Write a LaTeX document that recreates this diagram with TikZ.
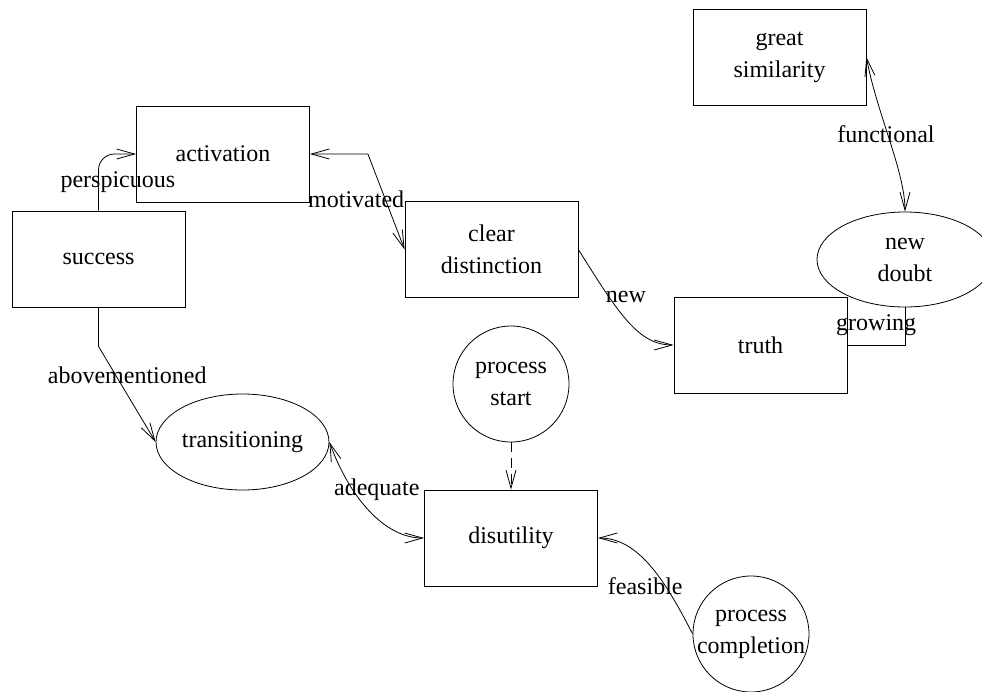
\documentclass[tikz,border=0pt]{standalone}
\usepackage{fontspec}
\setmainfont{Liberation Serif}
\usepackage{tikz}
\usetikzlibrary{arrows.meta, shapes.geometric, positioning}

\tikzset{
  >={Straight Barb[length=9pt, width=5pt]},
  box/.style={draw, minimum width=86.5pt, minimum height=48pt, align=center},
  oval/.style={draw, ellipse, inner sep=-2pt, minimum width=86.5pt, minimum height=48pt, align=center},
  disc/.style={draw, circle, inner sep=-4pt, minimum size=58pt, align=center},
  tag/.style={inner sep=0pt}
}

\begin{document}
\begin{tikzpicture}[x=0.5pt, y=-0.5pt, font=\fontsize{12}{16}\selectfont]
  \useasboundingbox (0,0) rectangle (982,692);

  \node (success) [box] at (98.5,259) {success};
  \node (activation) [box] at (223,154) {activation};
  \node (clear) [box] at (491.5,249.5) {clear\\distinction};
  \node (truth) [box] at (760.5,345) {truth};
  \node (great) [box] at (779.5,57) {great\\similarity};
  \node (doubt) [oval, minimum width=88pt, minimum height=47.5pt] at (905,259.5) {new\\doubt};
  \node (trans) [oval] at (242.5,442) {transitioning};
  \node (start) [disc] at (511,384) {process\\start};
  \node (disut) [box] at (511,538) {disutility};
  \node (done) [disc] at (751,634) {process\\completion};

  \draw[->, rounded corners=8pt] (success.north) |- node[tag, pos=0.25, xshift=9.7pt] {perspicuous} (activation.west);
  \draw[<->] (activation.east) -- ++(58,0) -- node[tag, pos=0.47, xshift=-14.5pt] {motivated} (clear.west);
  \draw[->] (clear.east) .. controls +(40,64) and +(-35,0) .. node[tag, xshift=-1pt, yshift=12pt] {new} (truth.west);
  \draw[<->] (great.east) .. controls +(10,55) and +(0,-40) .. node[tag, xshift=-1.75pt, yshift=2.75pt] {functional} (doubt.north);
  \draw (doubt.south) |- node[tag, pos=0.75, yshift=10pt] {growing} (truth.east);
  \draw[->] (success.south) -- ++(0,39) -- node[tag, pos=0.3, xshift=5.8pt] {abovementioned} (trans.west);
  \draw[<->] (trans.east) .. controls +(20,55) and +(-40,0) .. node[tag, xshift=3.75pt, yshift=10.3pt] {adequate} (disut.west);
  \draw[->, dash pattern=on 5pt off 3pt] (start) -- (disut);
  \draw[->] (done.west) .. controls +(-28,-55) and +(40,0) .. node[tag, xshift=-2.25pt, yshift=-10.3pt] {feasible} (disut.east);
\end{tikzpicture}
\end{document}
